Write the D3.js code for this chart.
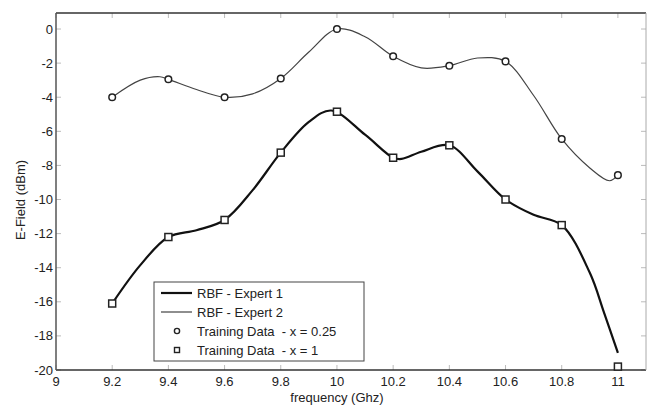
<!DOCTYPE html>
<html><head><meta charset="utf-8">
<script src="https://cdn.jsdelivr.net/npm/d3@7"></script>
<style>
body{margin:0;background:#fff;}
text{font-family:"Liberation Sans",Arial,sans-serif;fill:#222;}
</style></head>
<body><svg id="c" width="649" height="406"></svg>
<script>
// Training data
const freq = [9.2, 9.4, 9.6, 9.8, 10.0, 10.2, 10.4, 10.6, 10.8, 11.0];
const train025 = [-4.0, -2.95, -4.0, -2.9, 0.0, -1.6, -2.15, -1.9, -6.45, -8.57];
const train1 = [-16.1, -12.2, -11.2, -7.25, -4.85, -7.55, -6.82, -10.0, -11.5, -19.8];
// RBF curves
const curve2X = [9.2, 9.3, 9.37, 9.4, 9.5, 9.6, 9.7, 9.8, 9.9, 10.0, 10.1, 10.2, 10.3, 10.4, 10.5, 10.6, 10.7, 10.8, 10.9, 10.97, 11.0];
const curve2Y = [-4.0, -3.0, -2.8, -2.95, -3.55, -4.0, -3.8, -2.9, -1.35, 0.0, -0.45, -1.6, -2.28, -2.15, -1.7, -1.9, -3.9, -6.45, -8.15, -8.9, -8.57];
const curve1X = [9.2, 9.3, 9.4, 9.5, 9.6, 9.7, 9.8, 9.9, 9.98, 10.1, 10.2, 10.23, 10.3, 10.4, 10.5, 10.6, 10.7, 10.8, 10.9, 10.95, 11.0];
const curve1Y = [-16.1, -13.85, -12.2, -11.8, -11.2, -9.45, -7.25, -5.45, -4.78, -6.2, -7.55, -7.62, -7.2, -6.82, -8.35, -10.0, -10.9, -11.5, -14.3, -16.6, -19.0];
const xTicks = [9, 9.2, 9.4, 9.6, 9.8, 10, 10.2, 10.4, 10.6, 10.8, 11];
const yTicks = [0, -2, -4, -6, -8, -10, -12, -14, -16, -18, -20];
const legendLabels = ["RBF - Expert 1", "RBF - Expert 2", "Training Data  - x = 0.25", "Training Data  - x = 1"];

const L = 56, R = 646, T = 13, B = 370;
const x = d3.scaleLinear().domain([9, 11.1]).range([L, R]);
const y = d3.scaleLinear().domain([-20, 0.94]).range([B, T]);
const svg = d3.select("#c");

// ticks (inward, all four sides)
const tg = svg.append("g").attr("stroke", "#bbb").attr("stroke-width", 1);
xTicks.forEach(t => {
  tg.append("line").attr("x1", x(t)).attr("x2", x(t)).attr("y1", B).attr("y2", B - 5);
  tg.append("line").attr("x1", x(t)).attr("x2", x(t)).attr("y1", T).attr("y2", T + 5);
});
yTicks.forEach(t => {
  tg.append("line").attr("x1", L).attr("x2", L + 5).attr("y1", y(t)).attr("y2", y(t));
  tg.append("line").attr("x1", R).attr("x2", R - 5).attr("y1", y(t)).attr("y2", y(t));
});

// frame
svg.append("line").attr("x1", L).attr("x2", R).attr("y1", T).attr("y2", T).attr("stroke", "#333").attr("stroke-width", 1.5);
svg.append("line").attr("x1", L).attr("x2", R).attr("y1", B).attr("y2", B).attr("stroke", "#333").attr("stroke-width", 1.5);
svg.append("line").attr("x1", L).attr("x2", L).attr("y1", T).attr("y2", B).attr("stroke", "#555").attr("stroke-width", 1.5);
svg.append("line").attr("x1", R).attr("x2", R).attr("y1", T).attr("y2", B).attr("stroke", "#aaa").attr("stroke-width", 1);

// tick labels
svg.append("g").selectAll("text").data(xTicks).join("text")
  .attr("x", d => x(d)).attr("y", 386).attr("text-anchor", "middle")
  .attr("font-size", 13).text(d => d3.format("")(d));
svg.append("g").selectAll("text").data(yTicks).join("text")
  .attr("x", 53).attr("y", d => y(d) + 4.5).attr("text-anchor", "end")
  .attr("font-size", 13).text(d => d);

// axis titles
svg.append("text").attr("x", x(10)).attr("y", 402).attr("text-anchor", "middle").attr("font-size", 13).text("frequency (Ghz)");
svg.append("text").attr("transform", "translate(24.5,200) rotate(-90)").attr("text-anchor", "middle").attr("font-size", 13).text("E-Field (dBm)");

// curves
const line = d3.line().x(d => x(d[0])).y(d => y(d[1])).curve(d3.curveCatmullRom.alpha(0.5));
svg.append("path").datum(d3.zip(curve2X, curve2Y)).attr("d", line).attr("fill", "none").attr("stroke", "#444").attr("stroke-width", 1.2);
svg.append("path").datum(d3.zip(curve1X, curve1Y)).attr("d", line).attr("fill", "none").attr("stroke", "#111").attr("stroke-width", 2.2);

// markers
svg.append("g").selectAll("circle").data(d3.zip(freq, train025)).join("circle")
  .attr("cx", d => x(d[0])).attr("cy", d => y(d[1])).attr("r", 3.3)
  .attr("fill", "#fff").attr("stroke", "#222").attr("stroke-width", 1.5);
svg.append("g").selectAll("rect").data(d3.zip(freq, train1)).join("rect")
  .attr("x", d => x(d[0]) - 3.5).attr("y", d => y(d[1]) - 3.5).attr("width", 7).attr("height", 7)
  .attr("fill", "#fff").attr("stroke", "#222").attr("stroke-width", 1.5);

// legend
const lg = svg.append("g");
lg.append("rect").attr("x", 154).attr("y", 282).attr("width", 210).attr("height", 79).attr("fill", "#fff").attr("stroke", "#444").attr("stroke-width", 1);
legendLabels.forEach((lab, i) => {
  const yy = 293 + i * 19;
  if (i === 0) lg.append("line").attr("x1", 161).attr("x2", 192).attr("y1", yy).attr("y2", yy).attr("stroke", "#111").attr("stroke-width", 2.2);
  if (i === 1) lg.append("line").attr("x1", 161).attr("x2", 192).attr("y1", yy).attr("y2", yy).attr("stroke", "#444").attr("stroke-width", 1.2);
  if (i === 2) lg.append("circle").attr("cx", 177).attr("cy", yy).attr("r", 2.6).attr("fill", "#fff").attr("stroke", "#222").attr("stroke-width", 1.4);
  if (i === 3) lg.append("rect").attr("x", 174.5).attr("y", yy - 2.5).attr("width", 5).attr("height", 5).attr("fill", "#fff").attr("stroke", "#222").attr("stroke-width", 1.4);
  lg.append("text").attr("x", 197).attr("y", yy + 4.5).attr("font-size", 13).attr("xml:space", "preserve").style("white-space", "pre").text(lab);
});
</script></body></html>
